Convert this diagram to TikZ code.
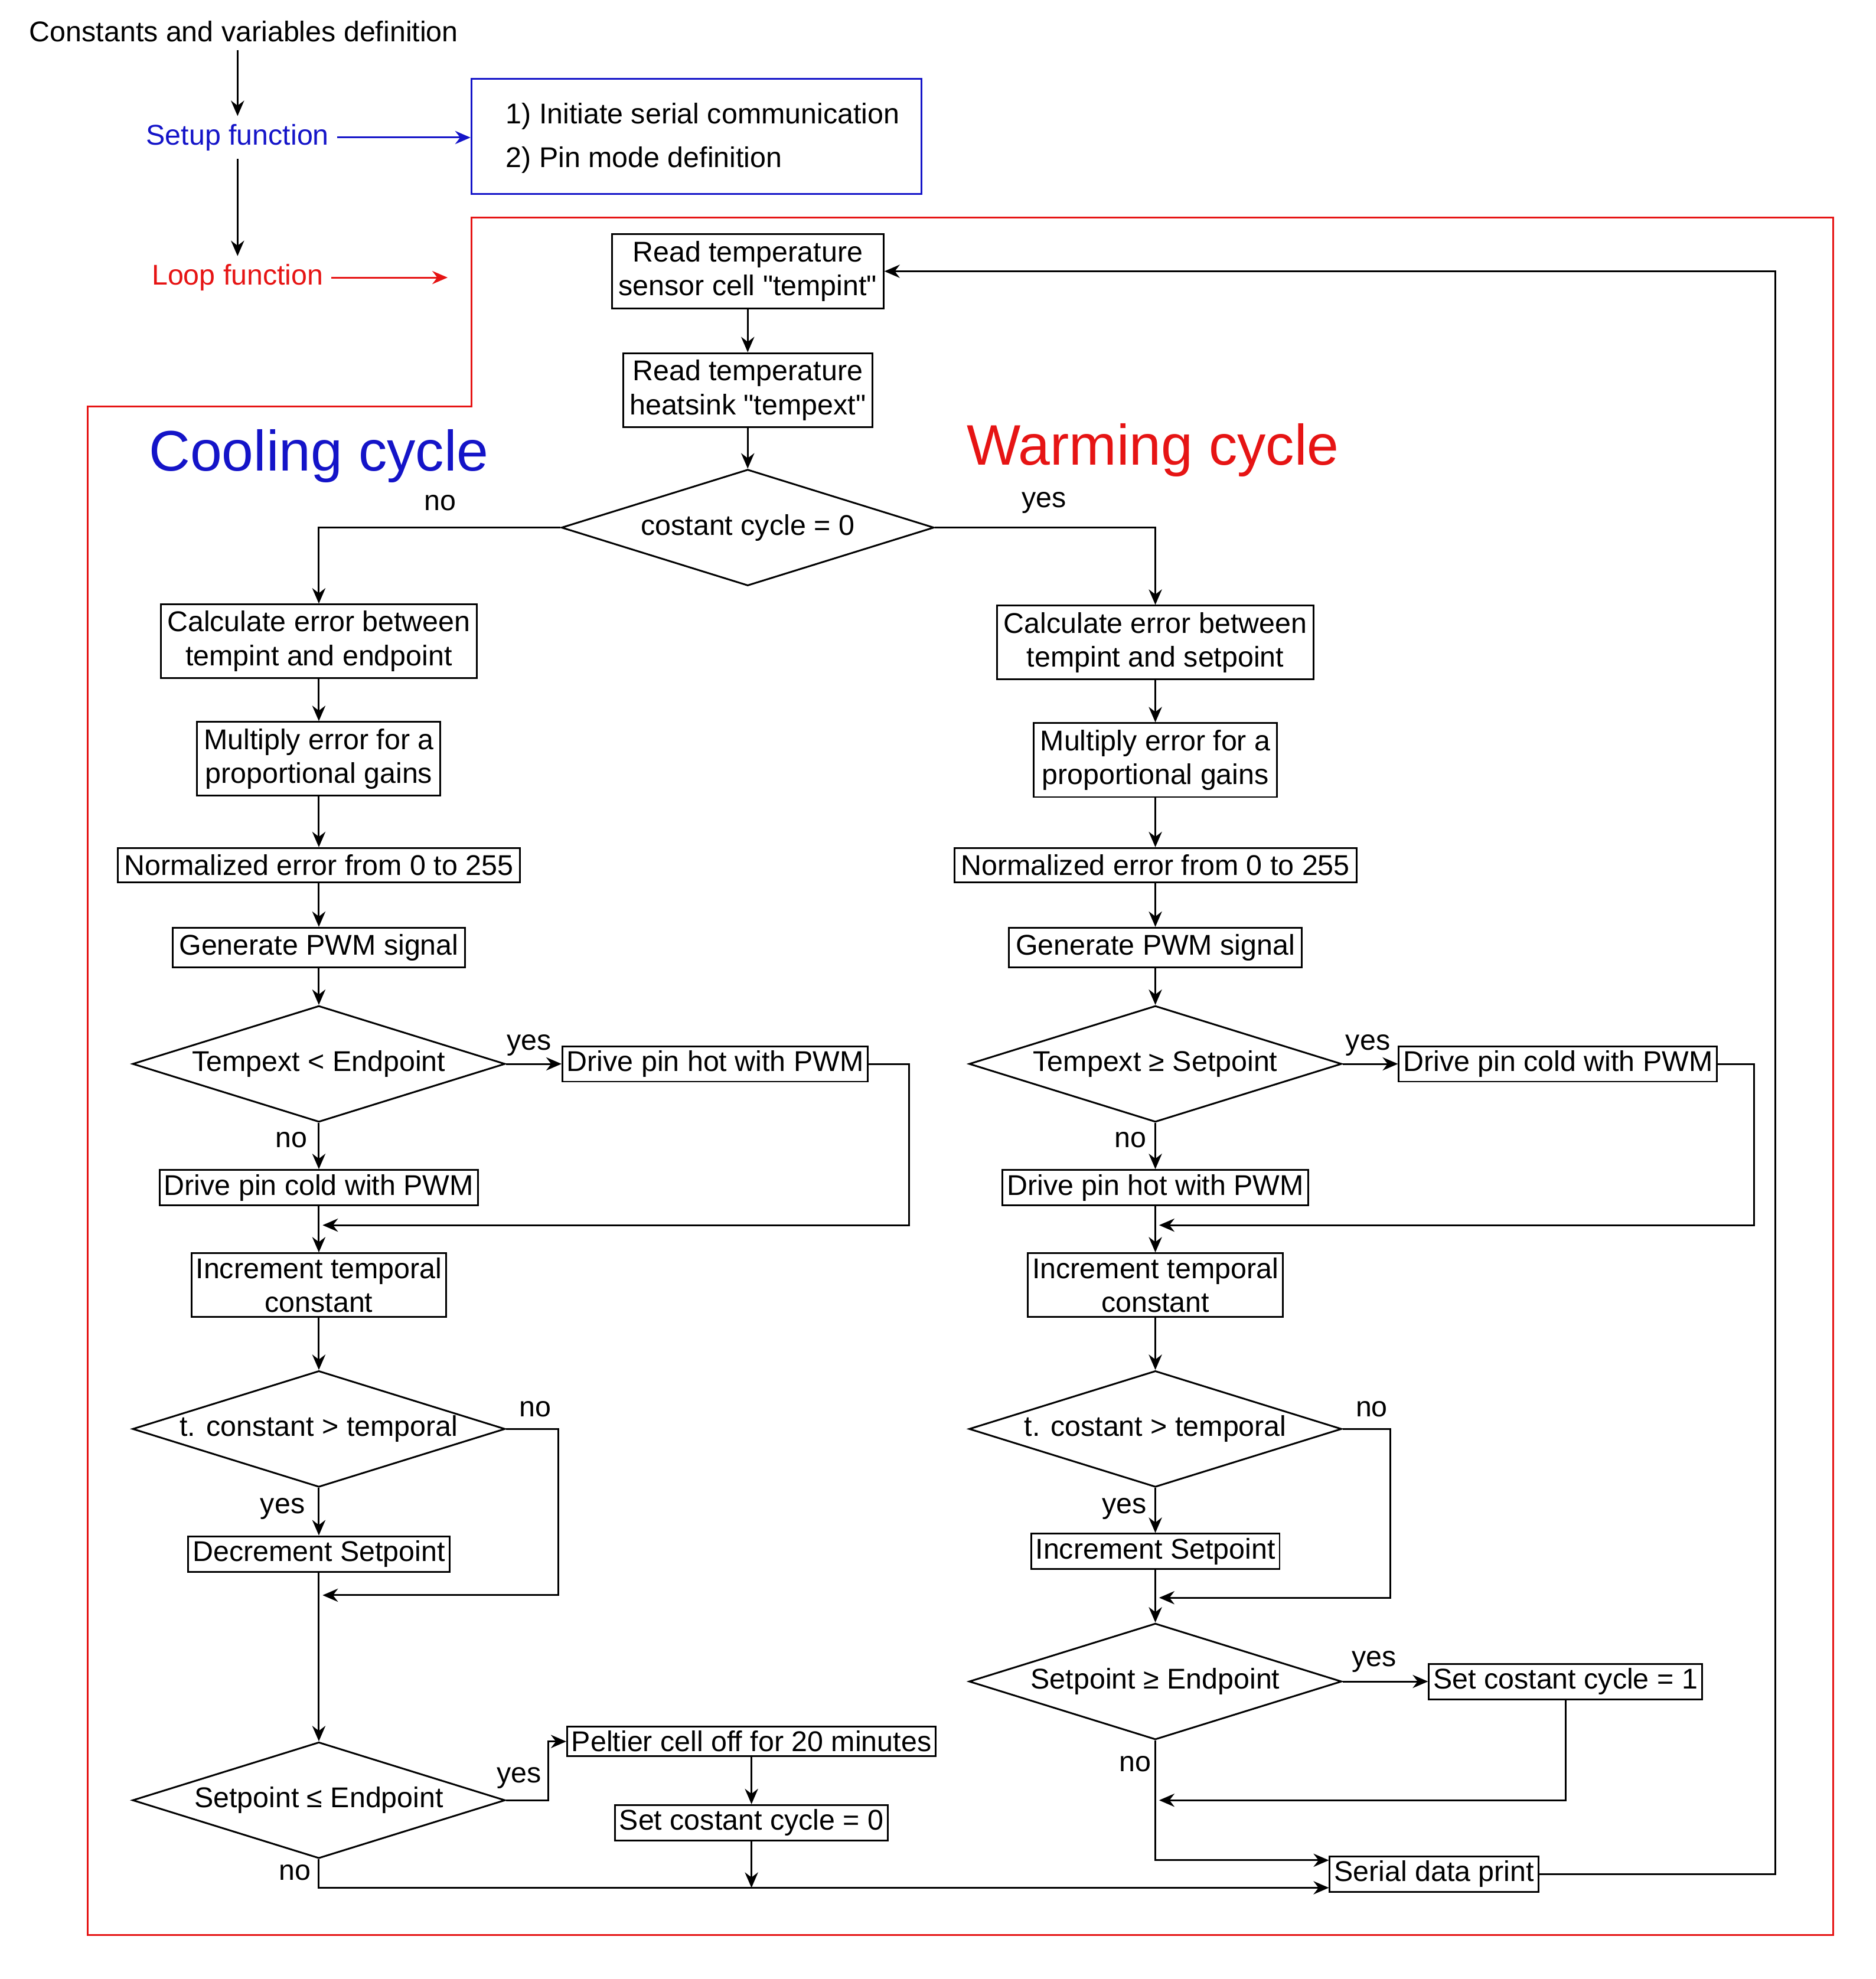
\documentclass[tikz,border=0pt]{standalone}
\usepackage{fontspec}
\setmainfont{Liberation Sans}[Ligatures=TeXOff]
\usetikzlibrary{shapes.geometric,arrows.meta}
\definecolor{setupblue}{RGB}{20,20,200}
\definecolor{loopred}{RGB}{230,20,20}
\begin{document}
\begin{tikzpicture}[x=0.02cm,y=-0.02cm,
	font=\fontsize{13}{15.5}\selectfont,
	>={Stealth[length=7pt,width=6pt]},
	every path/.style={thick},
	box/.style={draw, thick, align=center, inner sep=3pt},
	dec/.style={draw, thick, diamond, inner sep=0pt, minimum width=298*0.02cm, minimum height=93*0.02cm},
	lbl/.style={inner sep=1pt}]
\useasboundingbox (0,0) rectangle (1500,1583);

% top part
\node (const) at (195,25) {Constants and variables definition};
\node[setupblue] (setup) at (190,110) {Setup function};
\node[loopred] (loop) at (190,222) {Loop function};
\draw[->] (setup.north |- const.south) -- (setup);
\draw[->] (setup) -- (loop);
\node[draw=setupblue, thick, minimum width=360*0.02cm, minimum height=92*0.02cm] (init) at (557,109) {};
\node[anchor=west] at (398,93) {1) Initiate serial communication};
\node[anchor=west] at (398,128) {2) Pin mode definition};
\draw[->, setupblue] (setup) -- (setup -| init.west);
\coordinate (loopend) at (358,0);
\draw[->, loopred] (loop) -- (loop -| loopend);
\draw[loopred] (377,174) -- (1466,174) -- (1466,1548) -- (70,1548) -- (70,325) -- (377,325) -- cycle;

% common part
\node[box] (rint) at (598,217) {Read temperature\\sensor cell "tempint"};
\node[box] (rext) at (598,312) {Read temperature\\heatsink "tempext"};
\node[dec] (cyc) at (598,422) {\makebox[0pt]{costant cycle = 0}};
\node[setupblue, font=\fontsize{26}{30}\selectfont] at (255,365) {Cooling cycle};
\node[loopred, font=\fontsize{26}{30}\selectfont] at (922,360) {Warming cycle};
\node[lbl] at (352,402) {no};
\node[lbl] at (835,402) {yes};
\draw[->] (rint) -- (rext);
\draw[->] (rext) -- (cyc);

% cooling cycle
\node[box] (cerr) at (255,513) {Calculate error between\\tempint and endpoint};
\node[box] (cmul) at (255,607) {Multiply error for a\\proportional gains};
\node[box] (cnorm) at (255,692) {Normalized error from 0 to 255};
\node[box] (cpwm) at (255,758) {Generate PWM signal};
\node[dec] (cext) at (255,851) {\makebox[0pt]{Tempext < Endpoint}};
\node[box, inner sep=2pt] (chot) at (572,851) {Drive pin hot with PWM};
\node[box, inner sep=2pt] (ccold) at (255,950) {Drive pin cold with PWM};
\node[box, inner sep=2pt] (cinc) at (255,1028) {Increment temporal\\constant};
\node[dec] (ctemp) at (255,1143) {\makebox[0pt]{t. constant > temporal}};
\node[box, inner sep=2pt] (cdec) at (255,1243) {Decrement Setpoint};
\node[dec] (cset) at (255,1440) {\makebox[0pt]{Setpoint ≤ Endpoint}};
\node[box, inner sep=2pt] (peltier) at (601,1393) {Peltier cell off for 20 minutes};
\node[box, inner sep=2pt] (czero) at (601,1458) {Set costant cycle = 0};
\node[lbl] at (423,836) {yes};
\node[lbl] at (233,912) {no};
\node[lbl] at (428,1127) {no};
\node[lbl] at (226,1207) {yes};
\node[lbl] at (415,1422) {yes};
\node[lbl] at (236,1498) {no};
\coordinate (cm1) at (258,980);
\coordinate (cm2) at (258,1276);
\coordinate (cm3) at (601,1510);

\draw[->] (cyc.west) -| (cerr.north);
\draw[->] (cerr) -- (cmul);
\draw[->] (cmul) -- (cnorm);
\draw[->] (cnorm) -- (cpwm);
\draw[->] (cpwm) -- (cext);
\draw[->] (cext) -- (chot);
\draw[->] (cext) -- (ccold);
\draw[->] (ccold) -- (cinc);
\draw[->] (chot.east) -- ++(32,0) |- (cm1);
\draw[->] (cinc) -- (ctemp);
\draw[->] (ctemp) -- (cdec);
\draw[->] (ctemp.east) -- ++(42,0) |- (cm2);
\draw[->] (cdec) -- (cset);
\draw[->] (cset.east) -- ++(34,0) |- (peltier.west);
\draw[->] (peltier) -- (czero);
\draw[->] (czero) -- (cm3);

% warming cycle
\node[box] (werr) at (924,514) {Calculate error between\\tempint and setpoint};
\node[box] (wmul) at (924,608) {Multiply error for a\\proportional gains};
\node[box] (wnorm) at (924,692) {Normalized error from 0 to 255};
\node[box] (wpwm) at (924,758) {Generate PWM signal};
\node[dec] (wext) at (924,851) {\makebox[0pt]{Tempext ≥ Setpoint}};
\node[box, inner sep=2pt] (wcold) at (1246,851) {Drive pin cold with PWM};
\node[box, inner sep=2pt] (whot) at (924,950) {Drive pin hot with PWM};
\node[box, inner sep=2pt] (winc) at (924,1028) {Increment temporal\\constant};
\node[dec] (wtemp) at (924,1143) {\makebox[0pt]{t. costant > temporal}};
\node[box, inner sep=2pt] (wincset) at (924,1241) {Increment Setpoint};
\node[dec] (wset) at (924,1345) {\makebox[0pt]{Setpoint ≥ Endpoint}};
\node[box, inner sep=2pt] (wone) at (1252,1345) {Set costant cycle = 1};
\node[box, inner sep=2pt] (serial) at (1147,1499) {Serial data print};
\node[lbl] at (1094,836) {yes};
\node[lbl] at (904,912) {no};
\node[lbl] at (1097,1127) {no};
\node[lbl] at (899,1207) {yes};
\node[lbl] at (1099,1329) {yes};
\node[lbl] at (908,1411) {no};
\coordinate (wm1) at (927,980);
\coordinate (wm2) at (927,1278);
\coordinate (wm3) at (927,1440);

\draw[->] (cyc.east) -| (werr.north);
\draw[->] (werr) -- (wmul);
\draw[->] (wmul) -- (wnorm);
\draw[->] (wnorm) -- (wpwm);
\draw[->] (wpwm) -- (wext);
\draw[->] (wext) -- (wcold);
\draw[->] (wext) -- (whot);
\draw[->] (whot) -- (winc);
\draw[->] (wcold.east) -- ++(29,0) |- (wm1);
\draw[->] (winc) -- (wtemp);
\draw[->] (wtemp) -- (wincset);
\draw[->] (wtemp.east) -- ++(38,0) |- (wm2);
\draw[->] (wincset) -- (wset);
\draw[->] (wset) -- (wone);
\draw[->] (wone.south) |- (wm3);

% serial print and loop back
\draw[->] (wset.south) |- ([yshift=0.22cm]serial.west);
\draw[->] (cset.south) |- ([yshift=-0.22cm]serial.west);
\draw[->] (serial.east) -- (1420,1499) |- (rint.east);
\end{tikzpicture}
\end{document}
